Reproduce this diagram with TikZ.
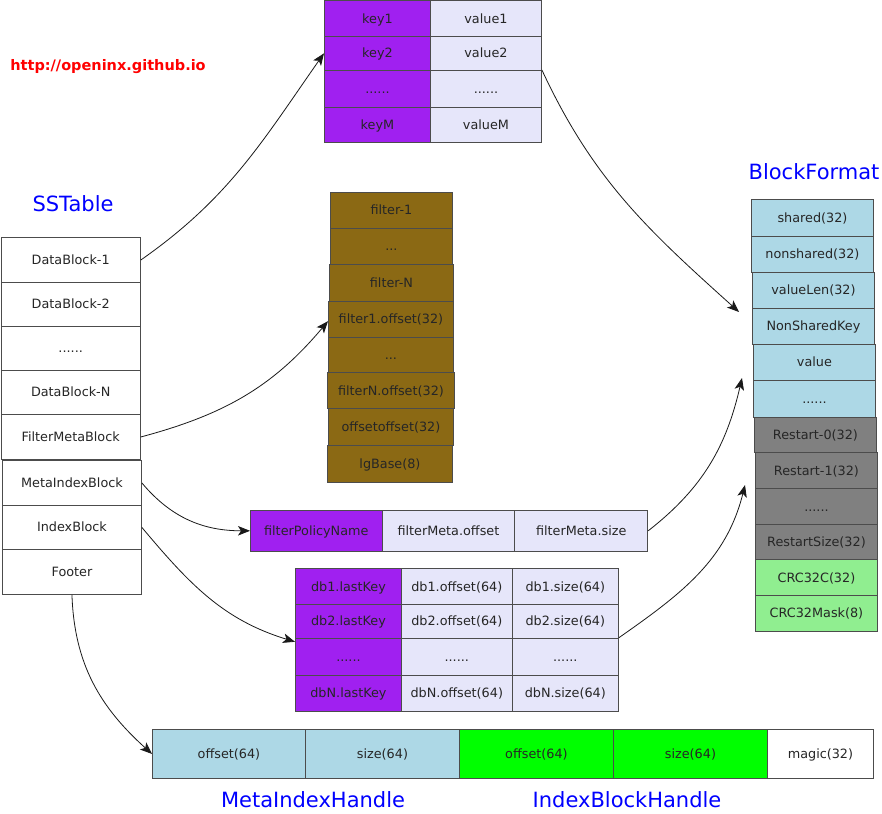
\documentclass[tikz,border=0pt]{standalone}
\usepackage{fontspec}
\setmainfont{DejaVu Sans}
\usetikzlibrary{arrows.meta}

\definecolor{kpurple}{HTML}{A020F0}
\definecolor{klav}{HTML}{E6E6FA}
\definecolor{kbrown}{HTML}{8B6914}
\definecolor{kblue}{HTML}{ADD8E6}
\definecolor{kgray}{HTML}{808080}
\definecolor{kgreen}{HTML}{90EE90}
\definecolor{kgreenb}{HTML}{00FF00}

\newcommand{\sixdots}{......}
\newcommand{\threedots}{...}
% one box: name, x1, y1, x2, y2, fill, text
\newcommand{\cellbox}[7]{%
  \node[cell, fill=#6, minimum width={#4-#2}, minimum height={#5-#3}] (#1) at (#2,#3) {#7};}

\begin{document}
\begin{tikzpicture}[x=1pt,y=-1pt,
    cell/.style={draw=black!70, line width=0.9pt, inner sep=0pt, anchor=north west,
      text=black!85, text height=9pt, text depth=0pt, font=\fontsize{12.8}{15}\selectfont},
    title/.style={text=blue, font=\fontsize{21}{25}\selectfont},
    urltext/.style={text=red, font=\bfseries\fontsize{14.5}{17}\selectfont},
    link/.style={-{Stealth[length=12pt,width=9.5pt,inset=3pt]}, draw=black!90, line width=0.8pt}]
    \useasboundingbox (0,0) rectangle (882,813);

    % Labels
    \node[urltext] (url) at (108,67) {http://openinx.github.io};
    \node[title] (sst) at (73,204) {SSTable};
    \node[title] (bft) at (814,172) {BlockFormat};
    \node[title] (mih) at (313,800) {MetaIndexHandle};
    \node[title] (ibh) at (627,800) {IndexBlockHandle};

    % SSTable
    \cellbox{d1}{0.5}{237}{140}{282}{white}{DataBlock-1}
    \cellbox{d2}{0.5}{282}{140}{326}{white}{DataBlock-2}
    \cellbox{d3}{0.5}{326}{140}{370}{white}{\sixdots}
    \cellbox{d4}{0.5}{370}{140}{414}{white}{DataBlock-N}
    \cellbox{fmb}{0.5}{414}{140}{459}{white}{FilterMetaBlock}
    \cellbox{mib}{2}{460}{141}{505}{white}{MetaIndexBlock}
    \cellbox{ib}{2}{505}{141}{549}{white}{IndexBlock}
    \cellbox{ft}{2}{549}{141}{594}{white}{Footer}

    % Data block (key / value)
    \foreach \r/\ya/\yb/\k/\v in {1/0.5/35.7/key1/value1, 2/35.7/70/key2/value2,
        3/70/106.7/\sixdots/\sixdots, 4/106.7/141.7/keyM/valueM} {
      \cellbox{k\r}{324}{\ya}{430}{\yb}{kpurple}{\k}
      \cellbox{v\r}{430}{\ya}{541}{\yb}{klav}{\v}
    }

    % Filter block
    \foreach \r/\xa/\xb/\ya/\yb/\t in {1/330/452/191.7/228/filter-1, 2/330/452/228/264/\threedots,
        3/329/453/264/300.7/filter-N, 4/328/453/300.7/336.7/filter1.offset(32),
        5/328/453/336.7/372.3/\threedots, 6/327/454/372.3/408/filterN.offset(32),
        7/328/453/408/445/offsetoffset(32), 8/327/452/445/481.7/lgBase(8)} {
      \cellbox{f\r}{\xa}{\ya}{\xb}{\yb}{kbrown}{\t}
    }

    % Meta index block
    \cellbox{fpn}{250}{510}{381.7}{550.7}{kpurple}{filterPolicyName}
    \cellbox{fmo}{381.7}{510}{514.3}{550.7}{klav}{filterMeta.offset}
    \cellbox{fms}{514.3}{510}{647.3}{550.7}{klav}{filterMeta.size}

    % Index block
    \foreach \r/\ya/\yb/\k/\o/\s in {1/568.3/604.3/db1.lastKey/db1.offset(64)/db1.size(64),
        2/604.3/637.7/db2.lastKey/db2.offset(64)/db2.size(64),
        3/637.7/675/\sixdots/\sixdots/\sixdots,
        4/675/710.7/dbN.lastKey/dbN.offset(64)/dbN.size(64)} {
      \cellbox{dk\r}{295}{\ya}{401}{\yb}{kpurple}{\k}
      \cellbox{do\r}{401}{\ya}{511.7}{\yb}{klav}{\o}
      \cellbox{ds\r}{511.7}{\ya}{618}{\yb}{klav}{\s}
    }

    % Block format
    \foreach \r/\xa/\xb/\ya/\yb/\c/\t in {1/751/873/199.3/236/kblue/shared(32),
        2/751/873/236/272/kblue/nonshared(32), 3/752/874/272/308/kblue/valueLen(32),
        4/752/874/308/344/kblue/NonSharedKey, 5/753/875/344/380/kblue/value,
        6/753/875/380/416.7/kblue/\sixdots, 7/754/876/416.7/452.3/kgray/Restart-0(32),
        8/755/877/452.3/488.3/kgray/Restart-1(32), 9/755/877/488.3/524/kgray/\sixdots,
        10/755/877/524/559.3/kgray/RestartSize(32), 11/755/877/559.3/595/kgreen/CRC32C(32),
        12/755/877/595/630.7/kgreen/CRC32Mask(8)} {
      \cellbox{bf\r}{\xa}{\ya}{\xb}{\yb}{\c}{\t}
    }

    % Footer
    \cellbox{fo1}{152}{729}{305}{778}{kblue}{offset(64)}
    \cellbox{fs1}{305}{729}{459}{778}{kblue}{size(64)}
    \cellbox{fo2}{459}{729}{613}{778}{kgreenb}{offset(64)}
    \cellbox{fs2}{613}{729}{767}{778}{kgreenb}{size(64)}
    \cellbox{mg}{767}{729}{873}{778}{white}{magic(32)}

    % Arrows
    \coordinate (bfin1) at (739,312);
    \coordinate (bfin2) at (742,378);
    \coordinate (bfin3) at (745,485);
    \draw[link] (d1.east) to[out=35,in=235] (k2.west);
    \draw[link] (v3.north east) to[out=-65,in=138] (bfin1);
    \draw[link] (fmb.east) to[out=15,in=230] ([yshift=-2pt]f4.west);
    \draw[link] (mib.east) to[out=-50,in=180] (fpn.west);
    \draw[link] (fms.east) to[out=38,in=257] (bfin2);
    \draw[link] (ib.east) to[out=-50,in=163] ([yshift=15pt]dk3.west);
    \draw[link] (ds3.north east) to[out=35,in=256] (bfin3);
    \draw[link] (ft.south) to[out=-88,in=138] (fo1.west);
\end{tikzpicture}
\end{document}
